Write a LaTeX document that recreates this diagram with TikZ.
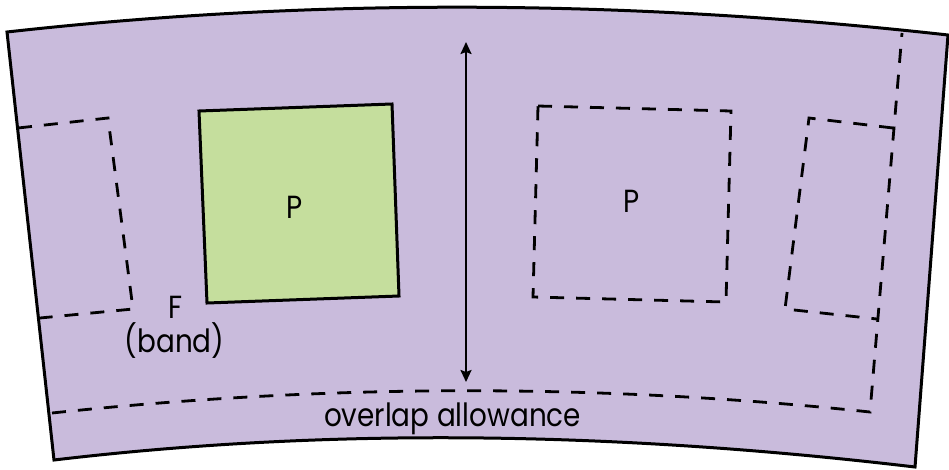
\documentclass[tikz,border=0pt]{standalone}
\usepackage{fontspec}
\setmainfont{Poppins}[FakeStretch=0.87]
\usetikzlibrary{arrows.meta}
\definecolor{bandpurple}{HTML}{C9BBDC}
\definecolor{patgreen}{HTML}{C5DE9D}
\begin{document}
\begin{tikzpicture}[x=1pt,y=-1pt,
  outline/.style={line width=3pt,line join=miter},
  dashline/.style={line width=2.8pt,dash pattern=on 14pt off 12pt},
  lbl/.style={anchor=base,inner sep=0pt,font=\fontsize{32}{38}\selectfont}]
\useasboundingbox (0,0) rectangle (949,469);
% outer band
\draw[outline,fill=bandpurple] (7,32) .. controls (320,-3) and (634,0) .. (948,35)
  -- (915,467) .. controls (628,433) and (341,426) .. (54,460) -- cycle;
% dashed overlap line and right repeat edge
\draw[dashline] (52,413) .. controls (325,384) and (597,383) .. (870,412) -- (902,33);
% left partial repeat
\draw[dashline] (18,128) -- (108,118) -- (133,309) -- (40,318);
% right partial repeat
\draw[dashline] (893,128) -- (809,118) -- (785,309) -- (877,319);
% middle repeat
\draw[dashline] (538,106) -- (731,111) -- (726,302) -- (533,297) -- cycle;
% green pattern piece
\draw[outline,fill=patgreen] (199,111) -- (392,104) -- (399,296) -- (207,303) -- cycle;
% labels
\node[lbl] (p1) at (295,218) {P};
\node[lbl] (p2) at (632,212) {P};
\node[lbl] (f) at (175.5,318) {F};
\node[lbl] (band) at (174.5,352) {(band)};
\node[lbl] (ov) at (452.5,426) {overlap allowance};
% dimension arrow
\coordinate (atop) at (466,42);
\coordinate (abot) at (466,382);
\draw[line width=2.2pt,{Stealth[length=12pt,width=11pt,inset=2pt]}-{Stealth[length=12pt,width=11pt,inset=2pt]}] (atop) -- (abot);
\end{tikzpicture}
\end{document}
